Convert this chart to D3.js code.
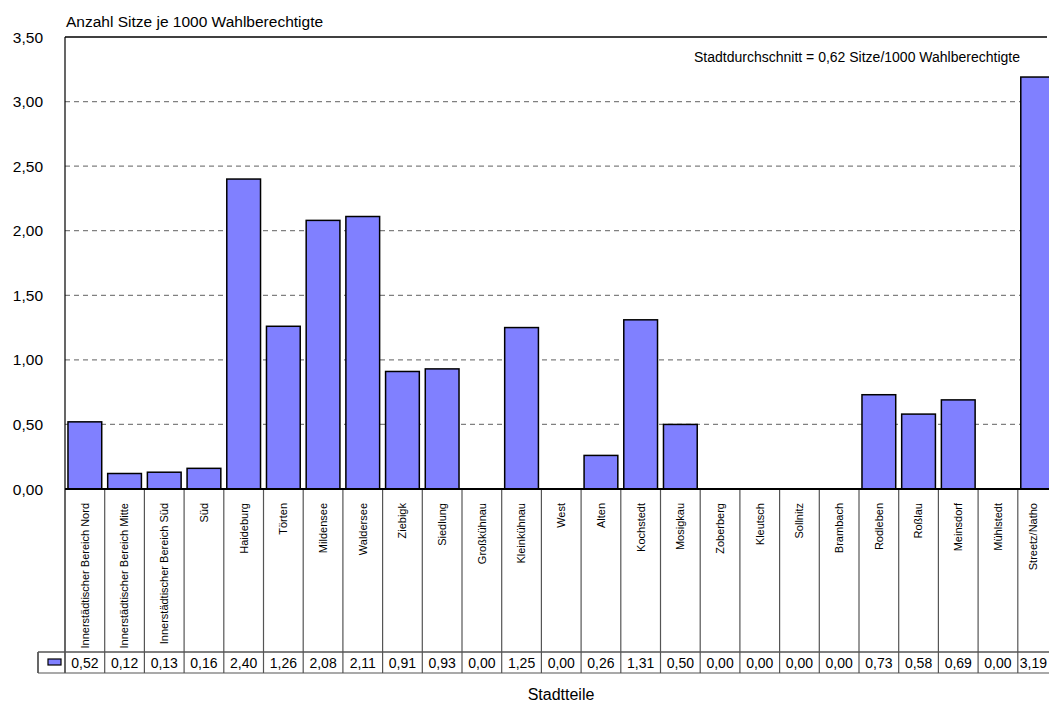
<meta charset="utf-8">
<style>body { margin: 0; } svg { display: block; }</style>
<svg width="1049" height="704"></svg>
<script src="https://cdn.jsdelivr.net/npm/d3@7"></script>
<script>
// Sitze je 1000 Wahlberechtigte nach Stadtteil
var stadtteile = ["Innerstädtischer Bereich Nord", "Innerstädtischer Bereich Mitte", "Innerstädtischer Bereich Süd",
  "Süd", "Haideburg", "Törten", "Mildensee", "Waldersee", "Ziebigk", "Siedlung", "Großkühnau", "Kleinkühnau",
  "West", "Alten", "Kochstedt", "Mosigkau", "Zoberberg", "Kleutsch", "Sollnitz", "Brambach", "Rodleben",
  "Roßlau", "Meinsdorf", "Mühlstedt", "Streetz/Natho"];
var sitze = [0.52, 0.12, 0.13, 0.16, 2.40, 1.26, 2.08, 2.11, 0.91, 0.93, 0.00, 1.25,
  0.00, 0.26, 1.31, 0.50, 0.00, 0.00, 0.00, 0.00, 0.73, 0.58, 0.69, 0.00, 3.19];
var yTicks = [0, 0.5, 1, 1.5, 2, 2.5, 3, 3.5];

var data = stadtteile.map(function(d, i) { return { name: d, wert: sitze[i] }; });

var svg = d3.select("svg"),
    width = +svg.attr("width"),
    height = +svg.attr("height");
var margin = { top: 37, left: 65, plotBottom: 489, labelBottom: 652, tableBottom: 673 };
var font = "Liberation Sans, Arial, sans-serif";
var fmt = function(v) { return d3.format(".2f")(v).replace(".", ","); };

svg.append("rect").attr("width", width).attr("height", height).attr("fill", "#fff");

var x = d3.scaleBand()
  .domain(stadtteile)
  .range([margin.left, 1057.5])
  .padding(0);
var step = x.step();

var y = d3.scaleLinear()
  .domain([0, 3.5])
  .range([margin.plotBottom, margin.top]);

// Gitterlinien
svg.append("g")
  .selectAll("line")
  .data(yTicks.filter(function(t) { return t > 0 && t < 3.5; }))
  .enter().append("line")
    .attr("x1", margin.left).attr("x2", 1057)
    .attr("y1", function(d) { return y(d); })
    .attr("y2", function(d) { return y(d); })
    .attr("stroke", "#808080")
    .attr("stroke-width", 1.2)
    .attr("stroke-dasharray", "5,4");

// y-Achse Beschriftung
svg.append("g")
  .selectAll("text")
  .data(yTicks)
  .enter().append("text")
    .attr("x", 43)
    .attr("y", function(d) { return y(d); })
    .attr("dy", "0.36em")
    .attr("text-anchor", "end")
    .attr("font-family", font)
    .attr("font-size", "15.5px")
    .text(fmt);

// Balken
svg.append("g")
  .selectAll("rect")
  .data(data.filter(function(d) { return d.wert > 0; }))
  .enter().append("rect")
    .attr("x", function(d) { return x(d.name) + step * 0.075; })
    .attr("width", step * 0.85)
    .attr("y", function(d) { return y(d.wert); })
    .attr("height", function(d) { return y(0) - y(d.wert); })
    .attr("fill", "#8080ff")
    .attr("stroke", "#000")
    .attr("stroke-width", 1.5);

// Rahmen
svg.append("line")
  .attr("x1", margin.left).attr("x2", 1047)
  .attr("y1", margin.top).attr("y2", margin.top)
  .attr("stroke", "#000").attr("stroke-width", 1.5);
svg.append("line")
  .attr("x1", margin.left).attr("x2", margin.left)
  .attr("y1", margin.top).attr("y2", margin.plotBottom)
  .attr("stroke", "#000").attr("stroke-width", 1.2);

// Datentabelle
var table = svg.append("g");
table.selectAll("line.col")
  .data(stadtteile.slice(1))
  .enter().append("line")
    .attr("class", "col")
    .attr("x1", function(d) { return x(d); })
    .attr("x2", function(d) { return x(d); })
    .attr("y1", margin.plotBottom)
    .attr("y2", margin.tableBottom)
    .attr("stroke", "#555")
    .attr("stroke-width", 1.2);
table.append("line")
  .attr("x1", margin.left).attr("x2", margin.left)
  .attr("y1", margin.plotBottom).attr("y2", margin.tableBottom)
  .attr("stroke", "#000").attr("stroke-width", 1.2);
table.append("line")
  .attr("x1", 38).attr("x2", 38)
  .attr("y1", margin.labelBottom).attr("y2", margin.tableBottom)
  .attr("stroke", "#000").attr("stroke-width", 1.2);
table.append("line")
  .attr("x1", 38).attr("x2", 1057)
  .attr("y1", margin.labelBottom).attr("y2", margin.labelBottom)
  .attr("stroke", "#555").attr("stroke-width", 1.5);
table.append("line")
  .attr("x1", 38).attr("x2", 1057)
  .attr("y1", margin.tableBottom).attr("y2", margin.tableBottom)
  .attr("stroke", "#555").attr("stroke-width", 1.2);

// sichtbarer Bereich endet bei 1049, letzte Spalte ist angeschnitten
var visibleCenter = function(name) {
  var x0 = x(name), x1 = Math.min(x0 + step, width);
  return (x0 + x1) / 2;
};

table.selectAll("text.cat")
  .data(stadtteile)
  .enter().append("text")
    .attr("class", "cat")
    .attr("transform", function(d) { return "translate(" + visibleCenter(d) + ",503) rotate(-90)"; })
    .attr("dy", "0.35em")
    .attr("text-anchor", "end")
    .attr("font-family", font)
    .attr("font-size", "11px")
    .text(function(d) { return d; });

table.selectAll("text.val")
  .data(data)
  .enter().append("text")
    .attr("class", "val")
    .attr("x", function(d) { return visibleCenter(d.name); })
    .attr("y", 668)
    .attr("text-anchor", "middle")
    .attr("font-family", font)
    .attr("font-size", "14px")
    .text(function(d) { return fmt(d.wert); });

table.append("rect")
  .attr("x", 48).attr("y", 659).attr("width", 13).attr("height", 6)
  .attr("fill", "#8080ff").attr("stroke", "#000").attr("stroke-width", 1.2);

// x-Grundlinie
svg.append("line")
  .attr("x1", margin.left).attr("x2", 1057)
  .attr("y1", y(0)).attr("y2", y(0))
  .attr("stroke", "#000").attr("stroke-width", 2);

// Texte
svg.append("text")
  .attr("x", 66).attr("y", 26.5)
  .attr("font-family", font).attr("font-size", "15.5px")
  .text("Anzahl Sitze je 1000 Wahlberechtigte");

svg.append("text")
  .attr("x", 857).attr("y", 62)
  .attr("text-anchor", "middle")
  .attr("font-family", font).attr("font-size", "14px")
  .text("Stadtdurchschnitt = 0,62 Sitze/1000 Wahlberechtigte");

svg.append("text")
  .attr("x", 561).attr("y", 700)
  .attr("text-anchor", "middle")
  .attr("font-family", font).attr("font-size", "16px")
  .text("Stadtteile");
</script>
